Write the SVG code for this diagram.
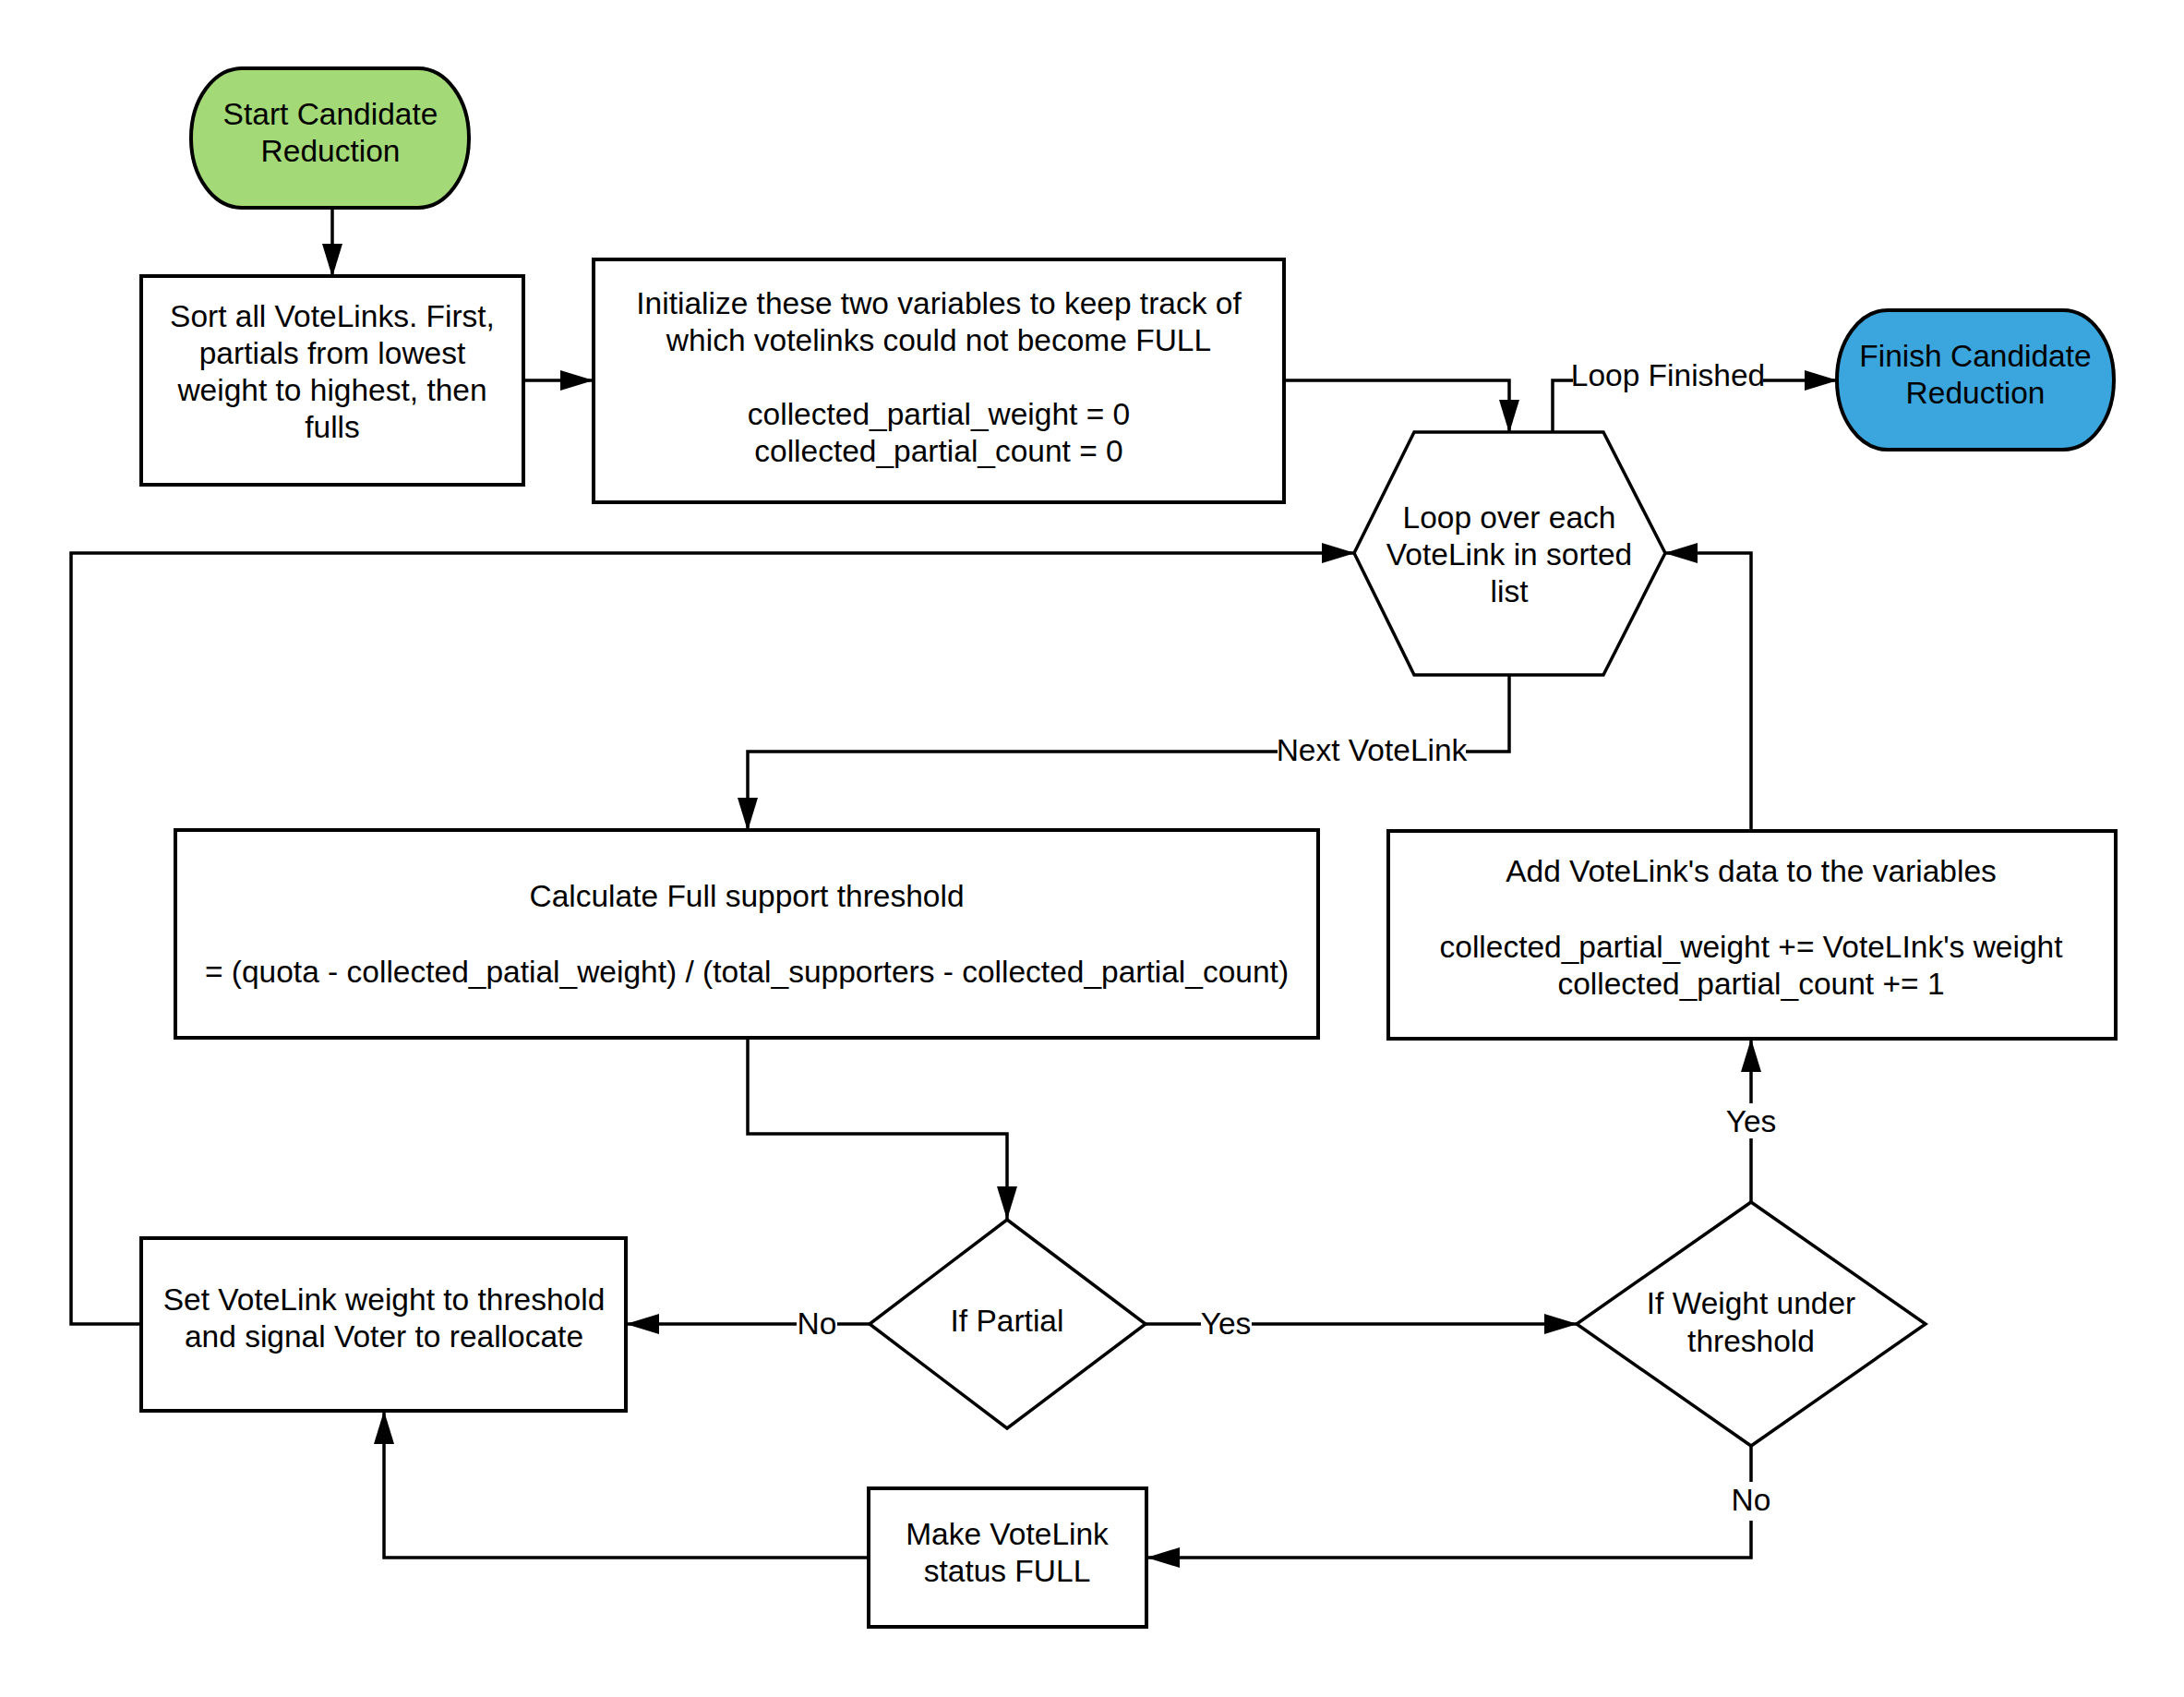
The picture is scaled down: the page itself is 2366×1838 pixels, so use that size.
<svg xmlns="http://www.w3.org/2000/svg" width="2366" height="1838" viewBox="0 0 2366 1838">
<style>
text{font-family:"Liberation Sans",Arial,sans-serif;font-size:33.5px;fill:#000;text-anchor:middle}
.box{fill:#fff;stroke:#000;stroke-width:4}
.shp{fill:#fff;stroke:#000;stroke-width:3.5}
.con{fill:none;stroke:#000;stroke-width:3.5}
.lbg{fill:#fff;stroke:none}
</style>
<defs>
<marker id="arr" markerUnits="userSpaceOnUse" markerWidth="36" markerHeight="24" viewBox="0 0 36 24" refX="35" refY="12" orient="auto">
<path d="M0,1 L36,12 L0,23 z" fill="#000"/>
</marker>
</defs>
<rect width="2366" height="1838" fill="#fff"/>
<g id="connectors">
<path class="con" d="M360,225 V299" marker-end="url(#arr)"/>
<path class="con" d="M567,412 H642" marker-end="url(#arr)"/>
<path class="con" d="M1391,412 H1635 V468" marker-end="url(#arr)"/>
<path class="con" d="M1682,468 V412 H1990" marker-end="url(#arr)"/>
<path class="con" d="M1635,731 V814 H810 V899" marker-end="url(#arr)"/>
<path class="con" d="M810,1124 V1228 H1091 V1320" marker-end="url(#arr)"/>
<path class="con" d="M942,1434 H679" marker-end="url(#arr)"/>
<path class="con" d="M1241,1434 H1708" marker-end="url(#arr)"/>
<path class="con" d="M1897,1302 V1126" marker-end="url(#arr)"/>
<path class="con" d="M1897,1566 V1687 H1243" marker-end="url(#arr)"/>
<path class="con" d="M941,1687 H416 V1529" marker-end="url(#arr)"/>
<path class="con" d="M153,1434 H77 V599 H1467" marker-end="url(#arr)"/>
<path class="con" d="M1897,900 V599 H1804" marker-end="url(#arr)"/>
<rect class="lbg" x="1704" y="390" width="206" height="38"/>
<text x="1807" y="418">Loop Finished</text>
<rect class="lbg" x="1384" y="794" width="204" height="38"/>
<text x="1486" y="824">Next VoteLink</text>
<rect class="lbg" x="863" y="1414" width="44" height="38"/>
<text x="885" y="1445">No</text>
<rect class="lbg" x="1301" y="1414" width="55" height="38"/>
<text x="1328" y="1445">Yes</text>
<rect class="lbg" x="1868" y="1195" width="58" height="38"/>
<text x="1897" y="1226">Yes</text>
<rect class="lbg" x="1872" y="1605" width="50" height="42"/>
<text x="1897" y="1636">No</text>
</g>
<g id="start">
<rect x="207" y="74" width="301" height="151" rx="55" ry="75" fill="#a3d977" stroke="#000" stroke-width="4"/>
<text x="358" y="135">Start Candidate</text>
<text x="358" y="175">Reduction</text>
</g>
<g id="sort">
<rect class="box" x="153" y="299" width="414" height="226"/>
<text x="360" y="354">Sort all VoteLinks. First,</text>
<text x="360" y="394">partials from lowest</text>
<text x="360" y="434">weight to highest, then</text>
<text x="360" y="474">fulls</text>
</g>
<g id="init">
<rect class="box" x="643" y="281" width="748" height="263"/>
<text x="1017" y="340">Initialize these two variables to keep track of</text>
<text x="1017" y="380">which votelinks could not become FULL</text>
<text x="1017" y="460">collected_partial_weight = 0</text>
<text x="1017" y="500">collected_partial_count = 0</text>
</g>
<g id="loop">
<polygon class="shp" points="1532,468 1737,468 1804,599 1737,731 1532,731 1467,599"/>
<text x="1635" y="572">Loop over each</text>
<text x="1635" y="612">VoteLink in sorted</text>
<text x="1635" y="652">list</text>
</g>
<g id="finish">
<rect x="1990" y="336" width="300" height="151" rx="55" ry="75" fill="#3aa6dd" stroke="#000" stroke-width="4"/>
<text x="2140" y="397">Finish Candidate</text>
<text x="2140" y="437">Reduction</text>
</g>
<g id="calc">
<rect class="box" x="190" y="899" width="1238" height="225"/>
<text x="809" y="982">Calculate Full support threshold</text>
<text x="809" y="1064">= (quota - collected_patial_weight) / (total_supporters - collected_partial_count)</text>
</g>
<g id="add">
<rect class="box" x="1504" y="900" width="788" height="225"/>
<text x="1897" y="955">Add VoteLink's data to the variables</text>
<text x="1897" y="1037">collected_partial_weight += VoteLInk's weight</text>
<text x="1897" y="1077">collected_partial_count += 1</text>
</g>
<g id="partial">
<polygon class="shp" points="1091,1321 1241,1434 1091,1547 942,1434"/>
<text x="1091" y="1442">If Partial</text>
</g>
<g id="weight">
<polygon class="shp" points="1897,1302 2086,1434 1897,1566 1708,1434"/>
<text x="1897" y="1423">If Weight under</text>
<text x="1897" y="1464">threshold</text>
</g>
<g id="set">
<rect class="box" x="153" y="1341" width="525" height="187"/>
<text x="416" y="1419">Set VoteLink weight to threshold</text>
<text x="416" y="1459">and signal Voter to reallocate</text>
</g>
<g id="make">
<rect class="box" x="941" y="1612" width="301" height="150"/>
<text x="1091" y="1673">Make VoteLink</text>
<text x="1091" y="1713">status FULL</text>
</g>
</svg>
